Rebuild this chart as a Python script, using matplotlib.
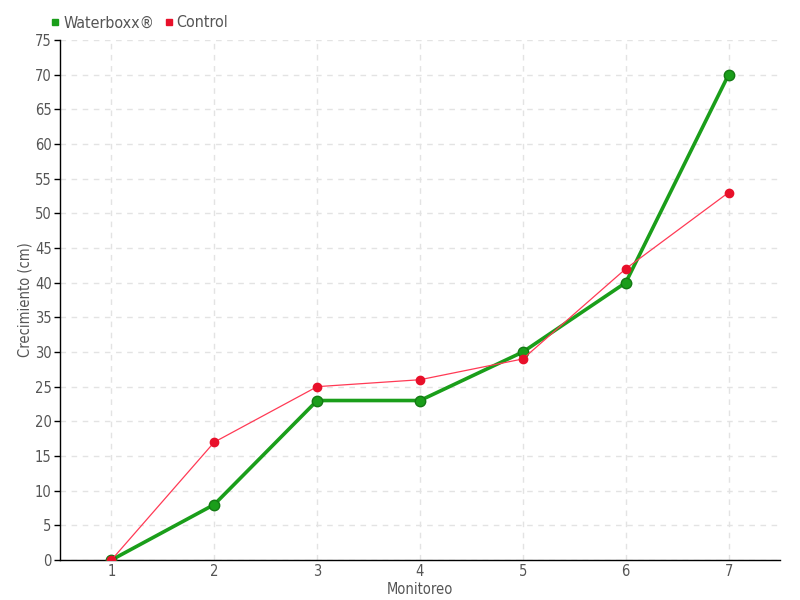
import matplotlib
matplotlib.use("Agg")
import matplotlib.pyplot as plt
from matplotlib.lines import Line2D

monitoreo = [1, 2, 3, 4, 5, 6, 7]
waterboxx = [0, 8, 23, 23, 30, 40, 70]
control = [0, 17, 25, 26, 29, 42, 53]
yticks = list(range(0, 80, 5))

plt.rcParams['font.family'] = ['DejaVu Sans']
plt.rcParams['font.stretch'] = 'condensed'
txt = '#555555'

fig = plt.figure(figsize=(8, 6), dpi=100)
ax = fig.add_axes([0.075, 0.0667, 0.9, 0.8666])

ax.plot(monitoreo, waterboxx, color='#1a9e1a', lw=2.6, marker='o', ms=7.5,
        mfc='#1a9e1a', mec='#137a13', mew=1, zorder=3)
ax.plot(monitoreo, control, color='#ff3a55', lw=0.9, marker='o', ms=6,
        mfc='#e8102a', mec='#e8102a', zorder=4)

ax.set_xlim(0.5, 7.5)
ax.set_ylim(0, 75)
ax.set_xticks(monitoreo)
ax.set_yticks(yticks)
ax.grid(True, color='#e3e3e3', ls=(0, (4, 4)), lw=1)
ax.set_axisbelow(True)
for s in ['top', 'right']:
    ax.spines[s].set_visible(False)
for s in ['left', 'bottom']:
    ax.spines[s].set_color('black')
    ax.spines[s].set_linewidth(1)
ax.tick_params(axis='x', length=0, pad=3, labelsize=10.5, labelcolor=txt)
ax.tick_params(axis='y', length=4, width=1, pad=2, labelsize=10.5, labelcolor=txt)
ax.set_xlabel('Monitoreo', fontsize=10.5, color=txt)
ax.set_ylabel('Crecimiento (cm)', fontsize=10.5, color=txt)
ax.xaxis.set_label_coords(0.5, -0.056)
ax.yaxis.set_label_coords(-0.048, 0.5)
ax.xaxis.label.set_va('center')
ax.yaxis.label.set_va('center')

handles = [Line2D([], [], ls='none', marker='s', ms=5, color='#1a9e1a', label='Waterboxx®'),
           Line2D([], [], ls='none', marker='s', ms=5, color='#e8102a', label='Control')]
fig.legend(handles=handles, loc='upper left', bbox_to_anchor=(0.055, 0.985), ncol=2,
           frameon=False, fontsize=11.5, handlelength=0.6, handletextpad=0.2,
           columnspacing=0.6, labelcolor=txt, borderaxespad=0)

fig.savefig('out.png', dpi=100)
